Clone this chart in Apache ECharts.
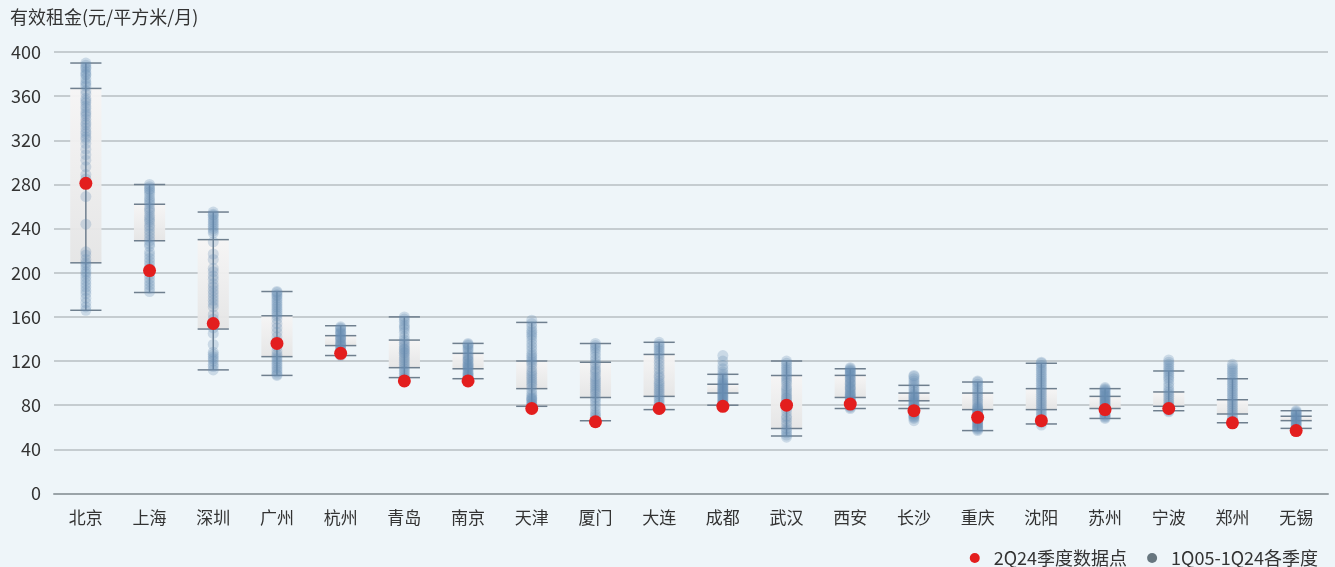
<!DOCTYPE html>
<html>
<head>
<meta charset="utf-8">
<script src="https://cdn.jsdelivr.net/npm/echarts@6/dist/echarts.min.js"></script>
<style>
  html, body { margin: 0; padding: 0; background: #eef5f9; }
  #chart { width: 1335px; height: 567px; }
</style>
</head>
<body>
<div id="chart"></div>
<script>
// Cities along the x axis
const cities = ['北京', '上海', '深圳', '广州', '杭州', '青岛', '南京', '天津', '厦门', '大连',
                '成都', '武汉', '西安', '长沙', '重庆', '沈阳', '苏州', '宁波', '郑州', '无锡'];

// Latest quarter (2Q24) effective rent, 元/平方米/月
const current2Q24 = [281, 202, 154, 136, 127, 102, 102, 77, 65, 77,
                     79, 80, 81, 75, 69, 66, 76, 77, 64, 57];

// Range summary of the 1Q05-1Q24 history per city
const whiskerHigh = [390, 280, 255, 183, 152, 160, 136, 155, 136, 137, 108, 120, 113, 98, 101, 118, 95, 111, 104, 75];
const upperQuart  = [367, 262, 230, 161, 143, 139, 127, 120, 119, 126, 99, 107, 107, 91, 91, 95, 88, 92, 85, 70];
const lowerQuart  = [209, 229, 149, 124, 134, 114, 113, 95, 87, 88, 91, 59, 87, 84, 76, 76, 77, 79, 72, 66];
const whiskerLow  = [166, 182, 112, 107, 125, 105, 104, 79, 66, 76, 80, 52, 77, 77, 57, 63, 68, 75, 64, 59];

// Quarterly history points, 1Q05-1Q24
const histBeijing  = [390, 388, 386, 385, 382, 380, 379, 376, 373, 371, 369, 365, 362, 358, 356, 354, 351, 349, 346, 344, 342, 339, 336, 334, 331, 328, 326, 323, 321, 317, 312, 307, 302, 296, 289, 285, 269, 244, 219, 216, 212, 209, 207, 204, 201, 199, 196, 193, 190, 187, 184, 181, 177, 173, 169, 166];
const histShanghai = [280, 278, 276, 275, 273, 271, 268, 266, 264, 262, 259, 257, 255, 252, 250, 248, 246, 243, 241, 238, 235, 232, 229, 226, 224, 219, 216, 213, 210, 207, 204, 198, 195, 192, 189, 186, 183];
const histShenzhen = [255, 253, 252, 250, 248, 246, 244, 242, 240, 238, 236, 228, 217, 212, 204, 201, 197, 194, 190, 187, 184, 181, 178, 175, 172, 169, 162, 158, 150, 145, 135, 128, 126, 124, 122, 120, 117, 115, 112];
const histGuangzhou = [183, 182, 180, 179, 177, 175, 173, 171, 169, 167, 165, 163, 161, 158, 154, 150, 146, 142, 138, 133, 129, 126, 124, 122, 120, 118, 116, 114, 112, 110, 108, 107];
const histHangzhou = [151, 150, 149, 147, 146, 145, 144, 142, 141, 140, 139, 137, 136, 135, 134, 133, 131, 130, 129, 128, 127, 126, 125];
const histQingdao  = [160, 158, 156, 153, 151, 149, 146, 142, 139, 137, 135, 133, 131, 130, 128, 127, 125, 123, 121, 119, 117, 115, 113, 111, 109, 107, 105, 104];
const histNanjing  = [136, 135, 134, 132, 131, 129, 127, 125, 124, 122, 121, 120, 118, 117, 116, 115, 114, 113, 112, 110, 109, 108, 107, 106, 105, 104, 103];
const histTianjin  = [157, 154, 151, 148, 146, 144, 142, 139, 136, 133, 130, 127, 125, 123, 121, 119, 117, 114, 111, 109, 107, 105, 103, 101, 99, 97, 94, 91, 89, 87, 86, 85, 84, 82, 81, 80, 79];
const histXiamen   = [136, 134, 132, 130, 127, 124, 121, 118, 116, 113, 111, 109, 106, 104, 102, 100, 98, 96, 94, 92, 90, 87, 85, 82, 79, 76, 73, 71, 69, 67, 66];
const histDalian   = [137, 135, 133, 131, 129, 127, 125, 122, 119, 116, 113, 110, 107, 105, 102, 100, 98, 96, 94, 92, 90, 88, 86, 84, 82, 80, 78, 76];
const histChengdu  = [125, 120, 116, 113, 110, 108, 106, 104, 103, 101, 100, 99, 98, 97, 96, 95, 94, 93, 92, 91, 90, 89, 88, 87, 86, 85, 84, 83, 82, 81, 80, 79];
const histWuhan    = [120, 118, 116, 114, 112, 110, 108, 106, 104, 102, 100, 97, 95, 93, 91, 89, 87, 86, 84, 82, 80, 77, 74, 70, 68, 65, 62, 59, 57, 55, 53, 51];
const histXian     = [114, 113, 112, 111, 110, 109, 108, 107, 105, 104, 103, 101, 100, 99, 97, 96, 95, 94, 92, 91, 90, 89, 88, 87, 86, 85, 84, 83, 82, 80, 79, 78, 77];
const histChangsha = [107, 106, 104, 102, 100, 98, 96, 94, 92, 90, 89, 88, 87, 86, 85, 84, 83, 82, 81, 80, 79, 78, 77, 76, 75, 74, 73, 72, 71, 70, 69, 68, 66];
const histChongqing = [102, 101, 99, 97, 95, 93, 91, 89, 87, 85, 83, 81, 79, 78, 77, 76, 75, 74, 73, 72, 71, 70, 69, 68, 67, 66, 65, 64, 63, 62, 61, 60, 59, 58, 57];
const histShenyang = [119, 118, 116, 114, 112, 110, 108, 106, 104, 102, 100, 98, 96, 94, 92, 90, 88, 86, 84, 82, 80, 78, 76, 74, 72, 70, 68, 66, 64, 62];
const histSuzhou   = [96, 95, 94, 93, 92, 91, 90, 89, 88, 87, 86, 85, 84, 83, 82, 81, 80, 79, 78, 77, 76, 75, 74, 73, 72, 71, 70, 69, 68];
const histNingbo   = [121, 119, 117, 115, 113, 111, 109, 107, 105, 103, 100, 97, 94, 92, 90, 88, 86, 84, 82, 80, 79, 78, 77, 76, 75, 74];
const histZhengzhou = [117, 115, 113, 111, 109, 107, 105, 103, 101, 99, 97, 95, 93, 91, 89, 87, 85, 83, 81, 79, 77, 75, 73, 71, 69, 67, 65, 64];
const histWuxi     = [75, 74, 73, 72, 71, 70, 69, 68, 67, 66, 65, 64, 63, 62, 61, 60, 59];

const histByCity = [histBeijing, histShanghai, histShenzhen, histGuangzhou, histHangzhou,
                    histQingdao, histNanjing, histTianjin, histXiamen, histDalian,
                    histChengdu, histWuhan, histXian, histChangsha, histChongqing,
                    histShenyang, histSuzhou, histNingbo, histZhengzhou, histWuxi];

// Y axis ticks
const yMin = 0, yMax = 400, yStep = 40;

const nameNow = '2Q24季度数据点';
const nameHist = '1Q05-1Q24各季度';

const boxData = cities.map((c, i) => [i, whiskerLow[i], lowerQuart[i], upperQuart[i], whiskerHigh[i]]);
const histData = [];
histByCity.forEach((arr, i) => arr.forEach(v => histData.push([i, v])));
const nowData = current2Q24.map((v, i) => [i, v]);

const capColor = '#6f7f8e';

function renderRange(params, api) {
  const i = api.value(0);
  const pLow = api.coord([i, api.value(1)]);
  const pQ1 = api.coord([i, api.value(2)]);
  const pQ3 = api.coord([i, api.value(3)]);
  const pHigh = api.coord([i, api.value(4)]);
  const half = api.size([1, 0])[0] * 0.245;
  const x = pLow[0];
  const cap = (p) => ({
    type: 'line',
    shape: { x1: x - half, y1: p[1], x2: x + half, y2: p[1] },
    style: { stroke: capColor, lineWidth: 1.5 }
  });
  return {
    type: 'group',
    children: [
      {
        type: 'rect',
        shape: { x: x - half, y: pQ3[1], width: half * 2, height: pQ1[1] - pQ3[1] },
        style: {
          fill: new echarts.graphic.LinearGradient(0, 0, 0, 1, [
            { offset: 0, color: 'rgba(246,245,245,0.95)' },
            { offset: 1, color: 'rgba(229,229,229,0.95)' }
          ])
        }
      },
      {
        type: 'line',
        shape: { x1: x, y1: pHigh[1], x2: x, y2: pLow[1] },
        style: { stroke: capColor, lineWidth: 1.5 }
      },
      cap(pHigh), cap(pQ3), cap(pQ1), cap(pLow)
    ]
  };
}

const chart = echarts.init(document.getElementById('chart'), null, { renderer: 'canvas' });
const font = '"Noto Sans CJK SC", "Noto Sans", sans-serif';

chart.setOption({
  backgroundColor: '#eef5f9',
  animation: false,
  textStyle: { fontFamily: font },
  title: {
    text: '有效租金(元/平方米/月)',
    left: 10,
    top: 8,
    padding: 0,
    textStyle: { fontSize: 18, fontWeight: 'normal', color: '#333', fontFamily: font }
  },
  legend: {
    right: 12,
    top: 544,
    itemWidth: 28,
    itemHeight: 10,
    itemGap: 20,
    icon: 'circle',
    textStyle: { fontSize: 18, color: '#333', fontFamily: font },
    data: [
      { name: nameNow, itemStyle: { color: '#e31e1e' } },
      { name: nameHist, itemStyle: { color: '#67767f', opacity: 1 } }
    ]
  },
  grid: { left: 54, right: 7, top: 52, bottom: 73.5 },
  xAxis: {
    type: 'category',
    data: cities,
    boundaryGap: true,
    axisTick: { show: false },
    axisLine: { lineStyle: { color: '#9aa3a8', width: 2 } },
    axisLabel: { fontSize: 17, color: '#333', margin: 16, fontFamily: font },
    splitLine: { show: false }
  },
  yAxis: {
    type: 'value',
    min: yMin,
    max: yMax,
    interval: yStep,
    axisLine: { show: false },
    axisTick: { show: false },
    axisLabel: { fontSize: 18, color: '#333', margin: 13, fontFamily: font },
    splitLine: { lineStyle: { color: '#b7bec2', width: 1.5 } }
  },
  series: [
    {
      type: 'custom',
      name: 'range',
      renderItem: renderRange,
      data: boxData,
      encode: { x: 0, y: [1, 2, 3, 4] },
      z: 2,
      silent: true
    },
    {
      type: 'scatter',
      name: nameHist,
      data: histData,
      symbolSize: 11,
      itemStyle: { color: 'rgba(104,142,180,0.33)' },
      z: 3
    },
    {
      type: 'scatter',
      name: nameNow,
      data: nowData,
      symbolSize: 13,
      itemStyle: { color: '#e31e1e', opacity: 1 },
      z: 4
    }
  ]
});
</script>
</body>
</html>
